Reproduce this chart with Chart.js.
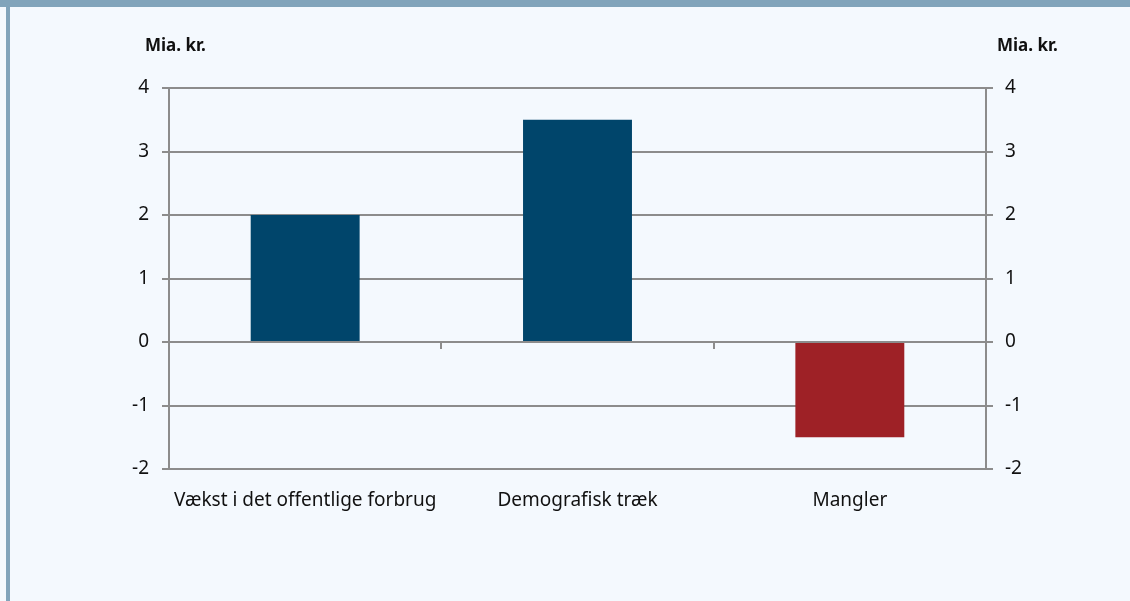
<!DOCTYPE html>
<html>
<head>
  <meta charset="utf-8">
  <title>Mia. kr.</title>
  <script src="https://cdn.jsdelivr.net/npm/chart.js"></script>
  <style>
    html, body { margin: 0; padding: 0; background: #f4f9fe; }
    #band { position: absolute; left: 0; top: 0; width: 1130px; height: 7px; background: #81a4bb; }
    #side { position: absolute; left: 6px; top: 7px; width: 4px; height: 594px; background: #81a4bb; }
    #wrap { position: absolute; left: 0; top: 0; width: 1130px; height: 601px; }
  </style>
</head>
<body>
<div id="band"></div>
<div id="side"></div>
<div id="wrap"><canvas id="chart" width="1130" height="601"></canvas></div>

<script>
  const categories = ['Vækst i det offentlige forbrug', 'Demografisk træk', 'Mangler'];
  const values = [2, 3.5, -1.5];
  const barColors = ['#00456b', '#00456b', '#9e2126'];
  const unitLabel = 'Mia. kr.';
  const yMin = -2, yMax = 4;

  const FONT = "'Noto Sans', sans-serif";
  const GRID = '#8c8c8c';

  // unit labels above both axes + small ticks on the zero line between categories
  const extras = {
    id: 'extras',
    afterDatasetsDraw(chart) {
      const ctx = chart.ctx;
      const x = chart.scales.x, y = chart.scales.y;
      const zero = y.getPixelForValue(0);
      ctx.save();
      ctx.strokeStyle = GRID;
      ctx.lineWidth = 2;
      for (let i = 1; i < categories.length; i++) {
        const px = Math.round((x.getPixelForTick(i - 1) + x.getPixelForTick(i)) / 2);
        ctx.beginPath();
        ctx.moveTo(px, zero);
        ctx.lineTo(px, zero + 7);
        ctx.stroke();
      }
      ctx.fillStyle = '#111';
      ctx.font = 'bold 17px ' + FONT;
      ctx.textBaseline = 'middle';
      ctx.textAlign = 'left';
      ctx.fillText(unitLabel, chart.chartArea.left - 24, 46);
      ctx.fillText(unitLabel, chart.chartArea.right + 11, 46);
      ctx.restore();
    }
  };

  new Chart(document.getElementById('chart'), {
    type: 'bar',
    data: {
      labels: categories,
      datasets: [{
        data: values,
        backgroundColor: barColors,
        barPercentage: 0.4,
        categoryPercentage: 1
      }]
    },
    options: {
      responsive: false,
      animation: false,
      layout: { padding: { left: 20, right: 10, top: 88, bottom: 0 } },
      plugins: { legend: { display: false }, tooltip: { enabled: false } },
      scales: {
        x: {
          grid: { display: false },
          border: { display: false },
          ticks: { color: '#111', font: { family: FONT, size: 19 }, padding: 12, maxRotation: 0 },
          afterFit(s) { s.height = 601 - 469; }
        },
        y: {
          position: 'left',
          min: yMin, max: yMax,
          ticks: { stepSize: 1, color: '#111', font: { family: FONT, size: 19 }, padding: 13 },
          grid: { color: GRID, lineWidth: 2, tickLength: 7 },
          border: { color: GRID, width: 2 },
          afterFit(s) { s.width = 149; }
        },
        y2: {
          position: 'right',
          min: yMin, max: yMax,
          ticks: { stepSize: 1, color: '#111', font: { family: FONT, size: 19 }, padding: 12 },
          grid: { drawOnChartArea: false, color: GRID, lineWidth: 2, tickLength: 7 },
          border: { color: GRID, width: 2 },
          afterFit(s) { s.width = 1130 - 10 - 986; }
        }
      }
    },
    plugins: [extras]
  });
</script>
</body>
</html>
